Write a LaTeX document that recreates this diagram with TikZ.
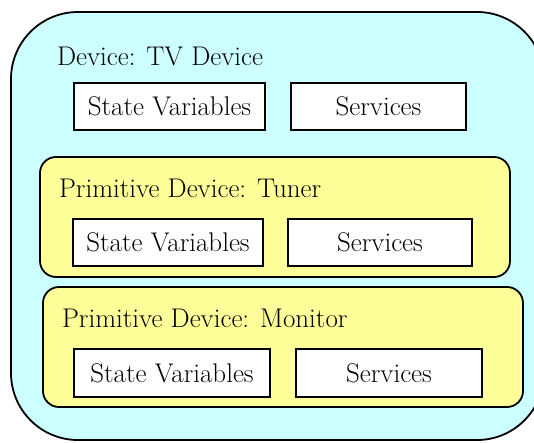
\documentclass[tikz,border=0pt]{standalone}
\usepackage{fontspec}
\setmainfont{Latin Modern Roman}
\definecolor{outerfill}{HTML}{CCFFFF}
\definecolor{devfill}{HTML}{FFFF99}
\tikzset{
  every node/.style={font=\fontsize{27}{32}\selectfont, inner sep=0pt, outer sep=0pt},
  frame/.style={draw=black, line width=1.8pt},
  itembox/.style={frame, fill=white, rectangle},
  devbox/.style={frame, fill=devfill, rectangle, rounded corners=16pt},
  lbl/.style={anchor=base west},
}
\newcommand{\bx}[6]{% name, x1,y1,x2,y2,text
  \node[itembox, minimum width={(#4-#2)*1pt}, minimum height={(#5-#3)*1pt}] (#1) at ({(#2+#4)/2},{(#3+#5)/2}) {#6};}
\begin{document}
\begin{tikzpicture}[x=1pt,y=-1pt]
\useasboundingbox (0,0) rectangle (534,443);
\clip (0,0) rectangle (534,443);
\fill[white] (0,0) rectangle (534,443);
% outer device
\draw[frame, fill=outerfill, rounded corners=67pt] (11,12) rectangle (544,440);
\node[lbl] (tvlbl) at (57,66) {Device: TV Device};
\bx{tvsv}{74}{83}{265}{130}{State Variables}
\bx{tvsrv}{291}{83}{466}{130}{Services}
% tuner
\node[devbox, minimum width=470pt, minimum height=120pt] (tuner) at (275,217) {};
\node[lbl] (tunerlbl) at (59,198) {Primitive Device: Tuner};
\bx{tunsv}{73}{219}{263}{266}{State Variables}
\bx{tunsrv}{288}{219}{472}{266}{Services}
% monitor
\node[devbox, minimum width=480pt, minimum height=120pt] (monitor) at (283,347) {};
\node[lbl] (monlbl) at (62,327) {Primitive Device: Monitor};
\bx{monsv}{74}{349}{270}{397}{State Variables}
\bx{monsrv}{296}{349}{482}{397}{Services}
\end{tikzpicture}
\end{document}
